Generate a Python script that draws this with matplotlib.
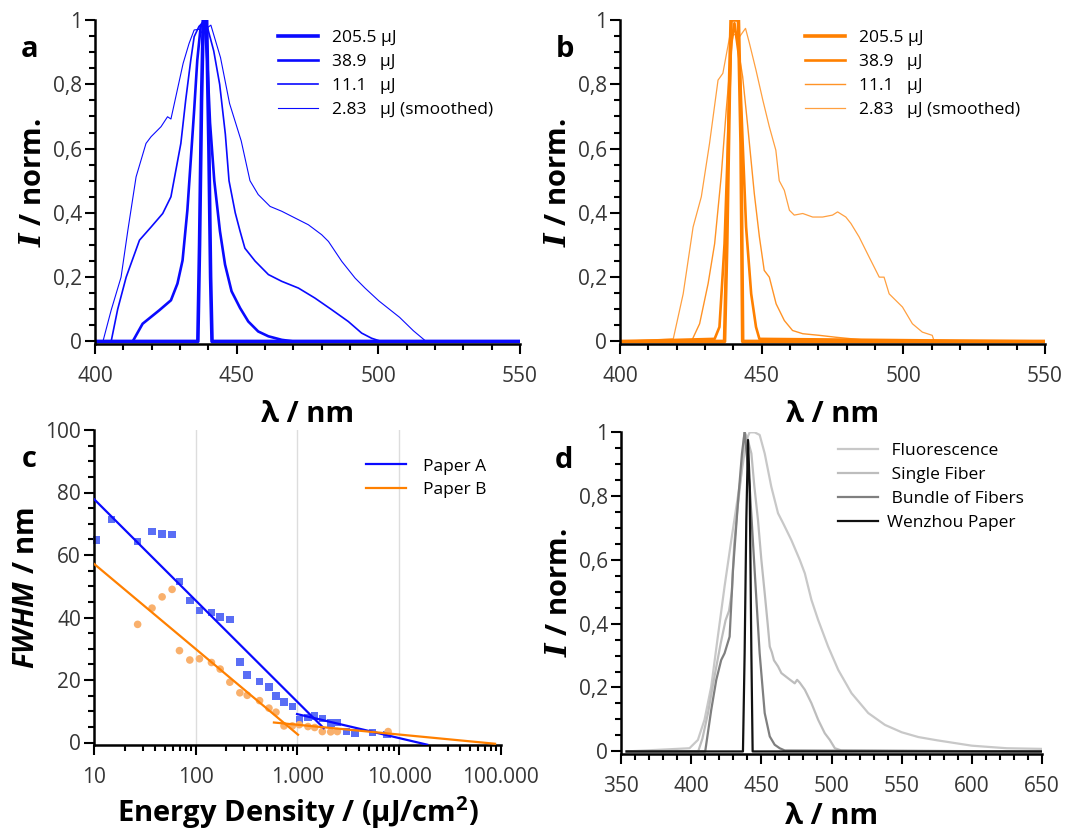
import matplotlib
matplotlib.use("Agg")
import matplotlib.pyplot as plt
from matplotlib.ticker import MultipleLocator, FuncFormatter, FixedLocator, FixedFormatter, LogLocator, NullFormatter

plt.rcParams['font.family'] = ['Open Sans', 'DejaVu Sans']
plt.rcParams['mathtext.fontset'] = 'custom'
plt.rcParams['mathtext.it'] = 'Open Sans:italic:bold'
plt.rcParams['mathtext.bf'] = 'Open Sans:bold'
plt.rcParams['mathtext.bfit'] = 'DejaVu Serif:italic:bold'

# ---- panel a: blue spectra (nm, normalised intensity)
a_205_x = [400, 436.3, 436.9, 437.6, 438.2, 439.4, 440.2, 440.8, 441.3, 550]
a_205_y = [0, 0, 0.3, 0.75, 1.0, 1.0, 0.6, 0.2, 0, 0]
a_389_x = [400, 413.3, 416.8, 422.7, 426.8, 429.1, 430.9, 432.6, 433.8, 435.0, 436.1, 437.3, 438.6,
           439.6, 440.6, 442.1, 444.1, 445.9, 448.2, 451.2, 454.1, 457.6, 461.2, 465.9, 470, 550]
a_389_y = [0, 0, 0.055, 0.097, 0.128, 0.18, 0.252, 0.408, 0.564, 0.72, 0.875, 0.98, 1.0,
           0.88, 0.68, 0.5, 0.343, 0.239, 0.156, 0.104, 0.062, 0.031, 0.016, 0.005, 0, 0]
a_111_x = [400, 405.7, 408.0, 411.0, 415.7, 419.8, 423.9, 426.8, 430.3, 432.0, 433.8, 435.0, 436.7, 439.0,
           441.9, 444.0, 446.0, 447.3, 449.5, 451.2, 452.9, 456.5, 461.2, 465.9, 471.8, 477.6, 483.5,
           489.4, 494.1, 497.6, 501, 550]
a_111_y = [0, 0, 0.1, 0.2, 0.315, 0.356, 0.398, 0.45, 0.616, 0.75, 0.875, 0.948, 0.98, 1.0,
           0.904, 0.8, 0.645, 0.5, 0.4, 0.343, 0.29, 0.25, 0.208, 0.187, 0.166, 0.135, 0.099,
           0.062, 0.026, 0.01, 0, 0]
a_283_x = [400, 402.8, 405.7, 409.2, 411.6, 414.5, 418.0, 419.8, 423.3, 425.6, 426.8, 428.0, 431.1, 433.2,
           435.0, 436.7, 437.8, 439.5, 440.9, 444.3, 447.5, 451.6, 454.7, 457.6, 461.8, 465.9, 470.6,
           475.3, 480.0, 482.4, 487.1, 491.8, 495.3, 500.2, 507.5, 512.4, 516.6, 550]
a_283_y = [0, 0, 0.097, 0.2, 0.346, 0.512, 0.616, 0.637, 0.668, 0.699, 0.692, 0.74, 0.865, 0.927,
           0.969, 0.971, 0.96, 0.975, 0.984, 0.883, 0.74, 0.624, 0.5, 0.457, 0.42, 0.405, 0.384,
           0.363, 0.332, 0.311, 0.249, 0.197, 0.166, 0.126, 0.075, 0.033, 0.002, 0]

# ---- panel b: orange spectra
b_205_x = [400, 436.9, 437.7, 438.7, 439.2, 441.8, 442.7, 443.3, 550]
b_205_y = [0, 0, 0.304, 0.823, 1.0, 1.0, 0.616, 0, 0]
b_389_x = [400, 433.4, 435.1, 436.9, 438.1, 439.2, 440.4, 442.2, 443.3, 444.5, 446.3, 448.0, 449.2, 550]
b_389_y = [0, 0.008, 0.045, 0.304, 0.616, 0.927, 0.99, 0.875, 0.616, 0.356, 0.148, 0.045, 0.008, 0]
b_111_x = [400, 425.2, 428.1, 431.1, 433.4, 435.7, 437.5, 439.2, 440.3, 443.3, 445.1, 447.4, 449.2,
           450.9, 452.7, 455.1, 458.0, 460.9, 464.5, 470.3, 476.2, 482.0, 488.0, 550]
b_111_y = [0, 0, 0.055, 0.18, 0.304, 0.512, 0.72, 0.896, 0.99, 0.823, 0.668, 0.46, 0.325,
           0.221, 0.2, 0.117, 0.065, 0.034, 0.024, 0.019, 0.013, 0.008, 0.003, 0]
b_283_x = [400, 418.8, 422.3, 425.8, 428.7, 431.6, 434.6, 436.3, 438.7, 440.5, 442.2, 444.3, 445.7,
           448.0, 450.4, 452.7, 455.0, 456.2, 458.0, 459.8, 461.5, 464.5, 468.0, 471.5, 475.0, 476.8,
           479.7, 481.5, 484.4, 487.9, 491.5, 493.2, 495.0, 499.7, 503.2, 506.7, 510.2, 510.8, 550]
b_283_y = [0, 0.008, 0.148, 0.356, 0.45, 0.616, 0.813, 0.834, 0.948, 0.955, 0.948, 0.974, 0.927,
           0.844, 0.751, 0.668, 0.595, 0.5, 0.47, 0.408, 0.393, 0.398, 0.387, 0.387, 0.393, 0.403,
           0.387, 0.367, 0.325, 0.263, 0.2, 0.2, 0.148, 0.107, 0.055, 0.029, 0.019, 0.003, 0]

# ---- panel c: FWHM vs energy density
energy = [10.5, 14.8, 26.7, 37.0, 46.5, 58.3, 68.9, 87.1, 108.4, 142.3, 173.3, 215.8, 270.8, 319.8,
          423.4, 523.6, 613.8, 736.3, 889.6, 1042, 1268, 1475, 1755, 2122, 2467, 3027, 3657, 5461, 7619]
fwhm_a = [64.8, 71.4, 64.3, 67.5, 66.7, 66.6, 51.5, 45.5, 42.3, 41.6, 40.2, 39.4, 25.7, 21.6,
          19.5, 17.7, 14.8, 12.9, 11.5, 7.2, 8.0, 8.5, 7.7, 6.2, 6.4, 3.5, 3.0, 3.2, 2.5]
energy_b = [26.7, 37.0, 46.5, 58.3, 68.9, 87.1, 108.4, 142.3, 173.3, 215.8, 270.8, 319.8, 423.4,
            523.6, 613.8, 736.3, 889.6, 1042, 1268, 1475, 1755, 2122, 2467, 7800]
fwhm_b = [37.8, 43.0, 46.6, 49.0, 29.4, 26.4, 26.8, 25.6, 23.5, 19.3, 15.9, 15.1, 13.4,
          11.0, 9.7, 5.3, 5.3, 5.7, 5.1, 4.8, 3.5, 3.4, 3.5, 3.5]
fit_a1_x, fit_a1_y = [10, 1811], [77.8, 4.6]
fit_a2_x, fit_a2_y = [990, 18900], [9.1, -0.7]
fit_b1_x, fit_b1_y = [10, 1012], [57.1, 2.5]
fit_b2_x, fit_b2_y = [586, 88000], [6.4, -0.4]
c_ticks = [10, 100, 1000, 10000, 100000]
c_ticklabels = ['10', '100', '1.000', '10.000', '100.000']

# ---- panel d: comparison spectra
fl_x = [354, 398.8, 404.8, 409.5, 414.3, 419.0, 423.8, 428.6, 433.3, 436.9, 439.3, 441.7, 445.2, 448.8,
        452.4, 457.1, 461.9, 465.5, 471.4, 477.4, 481.0, 485.7, 490.5, 497.6, 504.8, 514.3, 526.2,
        538.1, 550, 561.9, 575, 600, 625, 650]
fl_y = [0, 0.01, 0.036, 0.099, 0.203, 0.359, 0.516, 0.661, 0.797, 0.901, 0.974, 0.998, 0.998, 0.99,
        0.932, 0.828, 0.745, 0.714, 0.661, 0.599, 0.557, 0.474, 0.411, 0.328, 0.255, 0.182, 0.12,
        0.083, 0.06, 0.045, 0.035, 0.018, 0.01, 0.008]
sf_x = [354, 405, 408, 412, 416, 421, 424.5, 427, 429, 430.7, 433, 435.5, 438, 440, 442.9, 445, 447.6,
        450, 452.4, 454.5, 456, 457.5, 459, 461.9, 464.3, 469, 473.8, 475.5, 477.4, 481, 485.7, 490.5,
        495.2, 498.8, 502.4, 507, 650]
sf_y = [0, 0, 0.04, 0.12, 0.22, 0.337, 0.41, 0.44, 0.5, 0.649, 0.76, 0.857, 1.0, 0.98, 0.932, 0.83,
        0.724, 0.6, 0.495, 0.4, 0.328, 0.31, 0.285, 0.266, 0.245, 0.229, 0.213, 0.224, 0.215, 0.193,
        0.151, 0.099, 0.057, 0.036, 0.01, 0.003, 0]
bf_x = [354, 410, 414.3, 417.9, 421.4, 423.8, 427.4, 429.8, 433.3, 436.2, 438.1, 441.7, 445.2, 448.8,
        452.4, 456, 459.5, 463.1, 466.7, 650]
bf_y = [0, 0, 0.13, 0.224, 0.286, 0.307, 0.359, 0.568, 0.776, 0.932, 1.0, 0.828, 0.568, 0.307,
        0.12, 0.047, 0.021, 0.01, 0.003, 0]
wz_x = [354, 436.9, 438.1, 439.3, 440.5, 441.7, 442.9, 443.8, 650]
wz_y = [0, 0, 0.307, 0.724, 0.974, 0.828, 0.307, 0, 0]

BLUE = '#0a0aff'
ORANGE = '#ff8000'
TICKC = '#363636'
W, H = 1065, 834
LABEL_FS = 21


def rect(left, right, top, bottom):
    return [left / W, 1 - bottom / H, (right - left) / W, (bottom - top) / H]


def comma(v, pos):
    return ('%g' % v).replace('.', ',')


def style(ax):
    for s in ['top', 'right']:
        ax.spines[s].set_visible(False)
    for s in ['left', 'bottom']:
        ax.spines[s].set_linewidth(1.8)
    ax.tick_params(which='both', direction='out', width=1.5, colors='black',
                   labelcolor=TICKC, labelsize=15)
    ax.tick_params(which='major', length=7.5)
    ax.tick_params(which='minor', length=4.5)
    ax.tick_params(axis='x', which='major', pad=8)
    ax.tick_params(axis='y', which='major', pad=2)


def spectrum_axes(ax, xmin, xmax, xpad=10):
    style(ax)
    ax.set_xlim(xmin, xmax)
    ax.set_ylim(-0.008, 1.0)
    ax.xaxis.set_major_locator(MultipleLocator(50))
    ax.xaxis.set_minor_locator(MultipleLocator(10))
    ax.yaxis.set_major_locator(MultipleLocator(0.2))
    ax.yaxis.set_minor_locator(MultipleLocator(0.05))
    ax.yaxis.set_major_formatter(FuncFormatter(comma))
    ax.set_xlabel('λ / nm', fontsize=LABEL_FS, fontweight='bold', labelpad=xpad)
    ax.set_ylabel(r'$\mathbfit{I}$ / norm.', fontsize=LABEL_FS, fontweight='bold', labelpad=3)


def legend(ax, x, y, pad=0.8):
    ax.legend(loc='upper left', bbox_to_anchor=(x, y), frameon=False, fontsize=12.5,
              handlelength=2.3, handletextpad=pad, borderpad=0, borderaxespad=0, labelspacing=0.45)


fig = plt.figure(figsize=(10.65, 8.34), dpi=100)

# panel a
ax = fig.add_axes(rect(95, 520, 20, 344))
spectrum_axes(ax, 400, 550)
ax.plot(a_205_x, a_205_y, color=BLUE, lw=2.6, label='205.5 µJ')
ax.plot(a_389_x, a_389_y, color=BLUE, lw=1.9, label='38.9   µJ')
ax.plot(a_111_x, a_111_y, color=BLUE, lw=1.2, label='11.1   µJ')
ax.plot(a_283_x, a_283_y, color=BLUE, lw=0.8, label='2.83   µJ (smoothed)')
legend(ax, 0.43, 0.97)
ax.text(-0.155, 0.91, 'a', transform=ax.transAxes, fontsize=21, fontweight='bold',
        ha='center', va='center')

# panel b
ax = fig.add_axes(rect(620, 1045, 20, 344))
spectrum_axes(ax, 400, 550)
ax.plot(b_205_x, b_205_y, color=ORANGE, lw=2.6, label='205.5 µJ')
ax.plot(b_389_x, b_389_y, color=ORANGE, lw=1.9, label='38.9   µJ')
ax.plot(b_111_x, b_111_y, color=ORANGE, lw=1.0, alpha=0.85, label='11.1   µJ')
ax.plot(b_283_x, b_283_y, color=ORANGE, lw=0.9, alpha=0.75, label='2.83   µJ (smoothed)')
legend(ax, 0.435, 0.97)
ax.text(-0.13, 0.91, 'b', transform=ax.transAxes, fontsize=21, fontweight='bold',
        ha='center', va='center')

# panel c
ax = fig.add_axes(rect(94.3, 500.7, 430, 745))
style(ax)
ax.set_xscale('log')
ax.set_xlim(10, 100000)
ax.set_ylim(-0.8, 100)
ax.xaxis.set_major_locator(FixedLocator(c_ticks))
ax.xaxis.set_major_formatter(FixedFormatter(c_ticklabels))
ax.xaxis.set_minor_locator(LogLocator(base=10, subs=range(2, 10)))
ax.xaxis.set_minor_formatter(NullFormatter())
ax.yaxis.set_major_locator(MultipleLocator(20))
ax.yaxis.set_minor_locator(MultipleLocator(5))
for g in c_ticks[1:-1]:
    ax.axvline(g, color='#dddddd', lw=1.0, zorder=0)
ax.scatter(energy, fwhm_a, marker='s', s=30, color='#5a6ef5', edgecolors='none', zorder=2, clip_on=False)
ax.scatter(energy_b, fwhm_b, marker='o', s=30, color='#f9b06c', edgecolors='none', zorder=2)
ax.plot(fit_a1_x, fit_a1_y, color=BLUE, lw=1.6, zorder=3, label='Paper A')
ax.plot(fit_a2_x, fit_a2_y, color=BLUE, lw=1.6, zorder=3)
ax.plot(fit_b1_x, fit_b1_y, color=ORANGE, lw=1.6, zorder=3, label='Paper B')
ax.plot(fit_b2_x, fit_b2_y, color=ORANGE, lw=1.6, zorder=3)
legend(ax, 0.668, 0.91, pad=1.0)
ax.set_xlabel(r'Energy Density / (µJ/cm$^{\mathbf{2}}$)', fontsize=LABEL_FS, fontweight='bold', labelpad=5)
ax.set_ylabel(r'$\mathit{FWHM}$ / nm', fontsize=LABEL_FS, fontweight='bold', labelpad=3)
ax.text(-0.159, 0.905, 'c', transform=ax.transAxes, fontsize=21, fontweight='bold',
        ha='center', va='center')

# panel d
ax = fig.add_axes(rect(621, 1042, 431.7, 754))
spectrum_axes(ax, 350, 650, xpad=4)
ax.plot(fl_x, fl_y, color='#c8c8c8', lw=1.6, label=' Fluorescence')
ax.plot(sf_x, sf_y, color='#bdbdbd', lw=1.6, label=' Single Fiber')
ax.plot(bf_x, bf_y, color='#7f7f7f', lw=1.6, label=' Bundle of Fibers')
ax.plot(wz_x, wz_y, color='#111111', lw=1.6, label='Wenzhou Paper')
legend(ax, 0.516, 0.965, pad=0.5)
ax.text(-0.136, 0.91, 'd', transform=ax.transAxes, fontsize=21, fontweight='bold',
        ha='center', va='center')

fig.savefig('out.png', dpi=100)
